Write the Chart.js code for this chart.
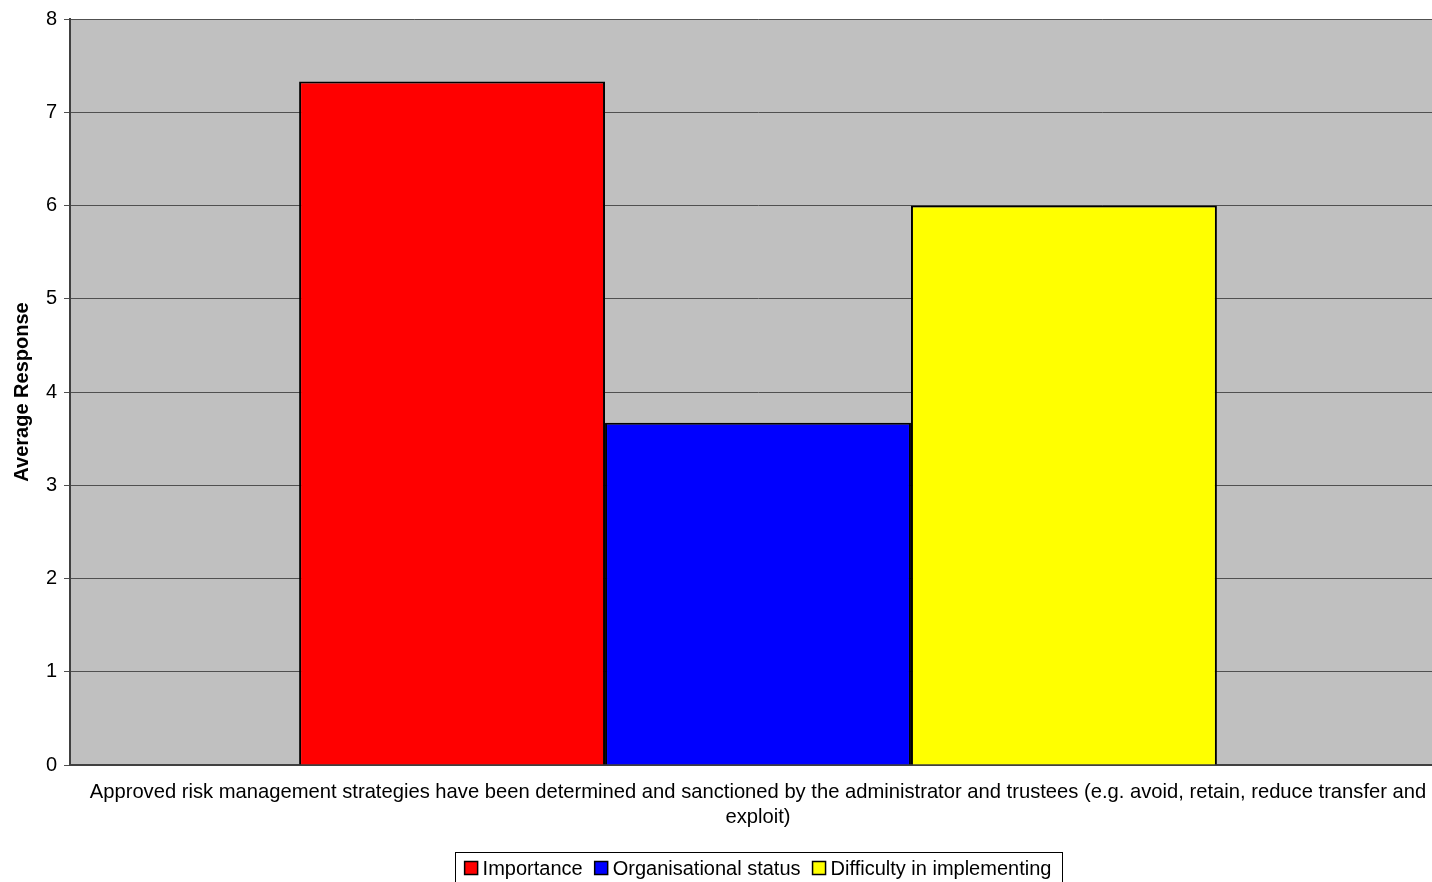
<!DOCTYPE html>
<html>
<head>
<meta charset="utf-8">
<script src="https://cdn.jsdelivr.net/npm/chart.js@4"></script>
<style>
  html, body { margin: 0; padding: 0; background: #fff; overflow: hidden; }
  /* plot runs a little past the right edge of the picture, as in the original */
  #wrap { width: 1446px; height: 882px; }
</style>
</head>
<body>
<div id="wrap"><canvas id="chart"></canvas></div>
<script>
const categories = [[
    "Approved risk management strategies have been determined and sanctioned by the administrator and trustees (e.g. avoid, retain, reduce transfer and",
    "exploit)"
]];
const seriesNames = ["Importance", "Organisational status", "Difficulty in implementing"];
const importance = [7.33];
const orgStatus = [3.67];
const difficulty = [6.0];
const seriesColors = ["#FF0000", "#0000FF", "#FFFF00"];
const yMin = 0, yMax = 8, yStep = 1;

const FONT = "'Liberation Sans', Arial, sans-serif";

// grey plot background
const plotBg = {
    id: "plotBg",
    beforeDraw(chart) {
        const { ctx, chartArea: a } = chart;
        ctx.save();
        ctx.fillStyle = "#C0C0C0";
        ctx.fillRect(a.left, a.top, a.right - a.left, a.bottom - a.top);
        ctx.restore();
    }
};

// boxed legend at the bottom, like the excel one
const boxLegend = {
    id: "boxLegend",
    afterDraw(chart) {
        const ctx = chart.ctx;
        ctx.save();
        ctx.font = "20px " + FONT;
        const sq = 13, gapText = 5, gapItem = 12, padX = 10;
        let total = 0;
        const widths = seriesNames.map(n => ctx.measureText(n).width);
        widths.forEach((w, i) => { total += sq + gapText + w + (i ? gapItem : 0); });
        const boxW = total + padX * 2;
        const cx = (chart.chartArea.left + chart.chartArea.right) / 2;
        const left = cx - boxW / 2;
        const top = 852;
        ctx.strokeStyle = "#000";
        ctx.lineWidth = 1;
        ctx.strokeRect(Math.round(left) + 0.5, top + 0.5, Math.round(boxW), 40);
        let x = left + padX;
        const midY = 868;
        ctx.textBaseline = "middle";
        seriesNames.forEach((n, i) => {
            ctx.fillStyle = seriesColors[i];
            ctx.fillRect(x, midY - sq / 2, sq, sq);
            ctx.strokeStyle = "#000";
            ctx.lineWidth = 1.5;
            ctx.strokeRect(x, midY - sq / 2, sq, sq);
            ctx.fillStyle = "#000";
            ctx.fillText(n, x + sq + gapText, midY + 1);
            x += sq + gapText + widths[i] + gapItem;
        });
        ctx.restore();
    }
};

new Chart(document.getElementById("chart"), {
    type: "bar",
    data: {
        labels: categories,
        datasets: [
            { label: seriesNames[0], data: importance, backgroundColor: seriesColors[0] },
            { label: seriesNames[1], data: orgStatus, backgroundColor: seriesColors[1] },
            { label: seriesNames[2], data: difficulty, backgroundColor: seriesColors[2] }
        ]
    },
    options: {
        responsive: true,
        maintainAspectRatio: false,
        animation: false,
        layout: { padding: { top: 19, right: 0, bottom: 0, left: 0 } },
        datasets: {
            bar: {
                borderColor: "#000",
                borderWidth: 2,
                barPercentage: 1,
                categoryPercentage: 0.667
            }
        },
        plugins: {
            legend: { display: false },
            tooltip: { enabled: false }
        },
        scales: {
            x: {
                grid: { display: false, drawTicks: false },
                border: { display: true, color: "#404040", width: 2 },
                ticks: {
                    color: "#000",
                    padding: 15,
                    maxRotation: 0,
                    autoSkip: false,
                    font: { family: FONT, size: 20.2, lineHeight: 1.25 }
                },
                afterFit(scale) { scale.height = 117; }
            },
            y: {
                min: yMin,
                max: yMax,
                ticks: {
                    stepSize: yStep,
                    color: "#000",
                    padding: 7,
                    font: { family: FONT, size: 20 }
                },
                grid: { color: "#505050", lineWidth: 1, tickLength: 6 },
                border: { display: true, color: "#404040", width: 2 },
                title: {
                    display: true,
                    text: "Average Response",
                    color: "#000",
                    padding: { top: 10, bottom: 0 },
                    font: { family: FONT, size: 20, weight: "bold" }
                },
                afterFit(scale) { scale.width = 70; }
            }
        }
    },
    plugins: [plotBg, boxLegend]
});
</script>
</body>
</html>
